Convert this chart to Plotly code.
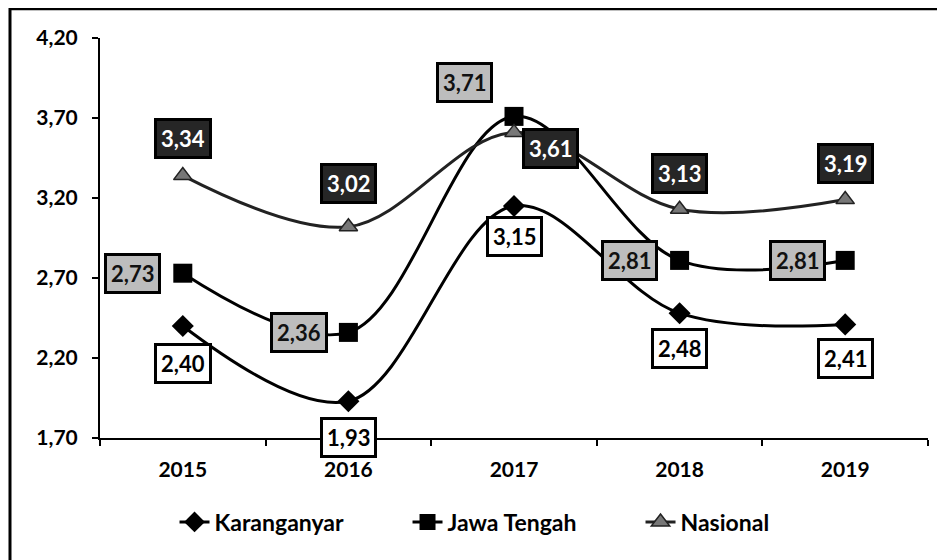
import plotly.graph_objects as go

years = ["2015", "2016", "2017", "2018", "2019"]
karanganyar = [2.40, 1.93, 3.15, 2.48, 2.41]
jawa_tengah = [2.73, 2.36, 3.71, 2.81, 2.81]
nasional = [3.34, 3.02, 3.61, 3.13, 3.19]
y_ticks = [1.70, 2.20, 2.70, 3.20, 3.70, 4.20]

# label offsets (pixels) per series
k_off = [(0, 37), (0, 36), (0, 30), (0, 35), (0, 34)]
j_off = [(-50, 0), (-49, 0), (-50, -34), (-50, 0), (-48, 0)]
n_off = [(0, -37), (0, -43), (36, 16), (0, -36), (0, -36)]

FONT = "Lato"
FS = 21

fig = go.Figure()
fig.add_trace(go.Scatter(
    x=years, y=karanganyar, name="Karanganyar", mode="lines+markers",
    line=dict(color="black", width=3, shape="spline", smoothing=1),
    marker=dict(symbol="diamond", size=17, color="black")))
fig.add_trace(go.Scatter(
    x=years, y=jawa_tengah, name="Jawa Tengah", mode="lines+markers",
    line=dict(color="black", width=3, shape="spline", smoothing=1),
    marker=dict(symbol="square", size=19, color="black")))
fig.add_trace(go.Scatter(
    x=years, y=nasional, name="Nasional", mode="lines+markers",
    line=dict(color="#222222", width=3, shape="spline", smoothing=1),
    marker=dict(symbol="triangle-up", size=16, color="#777777",
                line=dict(color="#222222", width=1.5))))

def add_labels(vals, offs, bg, fg):
    for i, (v, (ax, ay)) in enumerate(zip(vals, offs)):
        fig.add_annotation(
            x=i, y=v, xref="x", yref="y",
            text=f"{v:.2f}".replace(".", ","),
            showarrow=True, arrowcolor="rgba(0,0,0,0)", arrowwidth=0.1,
            ax=ax, ay=ay, axref="pixel", ayref="pixel",
            bgcolor=bg, bordercolor="black", borderwidth=3, borderpad=4,
            font=dict(family=FONT, size=22, color=fg, weight="bold"),
        )

add_labels(karanganyar, k_off, "white", "black")
add_labels(jawa_tengah, j_off, "#bdbdbd", "#111111")
add_labels(nasional, n_off, "#262626", "white")

# outer frame
fig.add_shape(type="rect", xref="paper", yref="paper",
              x0=-0.1087, x1=1.1, y0=-0.4, y1=1.073,
              line=dict(color="black", width=3), layer="below")

fig.update_layout(
    width=945, height=560,
    margin=dict(l=92, r=25, t=30, b=130, autoexpand=False),
    paper_bgcolor="white", plot_bgcolor="white",
    separators=",.",
    font=dict(family=FONT, size=FS, color="black", weight="bold"),
    showlegend=True,
    legend=dict(orientation="h", x=0.09, xanchor="left", y=-0.21, yanchor="middle",
                font=dict(family=FONT, size=23, color="black", weight="bold"),
                entrywidth=188, tracegroupgap=0),
    xaxis=dict(type="category", range=[-0.5, 4.5], autorange=False, automargin=False,
               showline=True, linecolor="black", linewidth=2,
               ticks="outside", tickson="boundaries", ticklen=6, tickwidth=2,
               tickcolor="black", showgrid=False, zeroline=False, tickangle=0,
               ticklabelstandoff=12,
               tickfont=dict(family=FONT, size=FS, weight="bold")),
    yaxis=dict(range=[1.70, 4.20], autorange=False, automargin=False,
               tickvals=y_ticks, tickformat=".2f",
               showline=True, linecolor="black", linewidth=2,
               ticks="outside", ticklen=6, tickwidth=2, tickcolor="black",
               showgrid=False, zeroline=False, ticklabelstandoff=10,
               tickfont=dict(family=FONT, size=FS, weight="bold")),
)

fig.write_html("out.html")
